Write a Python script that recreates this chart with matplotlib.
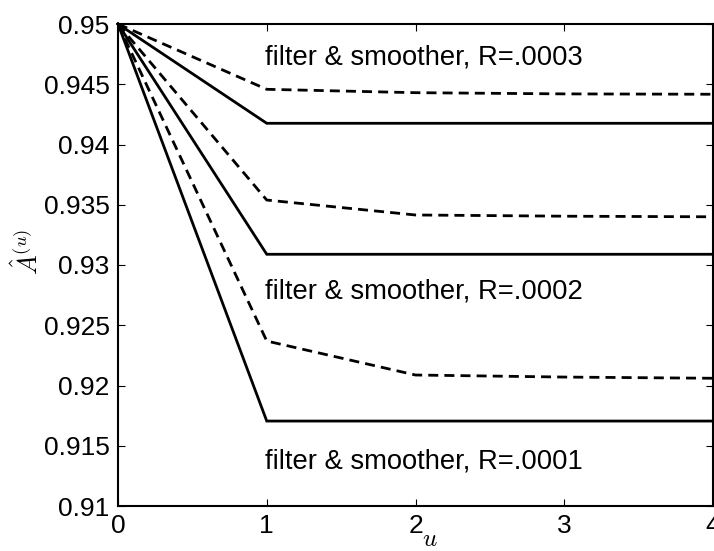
import matplotlib
matplotlib.use("Agg")
import matplotlib.pyplot as plt

plt.rcParams['font.family'] = ['Liberation Sans', 'DejaVu Sans']
plt.rcParams['mathtext.fontset'] = 'cm'

u = [0, 1, 2, 3, 4]
# solid lines
solid_r3 = [0.95, 0.94176, 0.94176, 0.94176, 0.94176]
solid_r2 = [0.95, 0.93089, 0.93089, 0.93089, 0.93089]
solid_r1 = [0.95, 0.91705, 0.91705, 0.91705, 0.91705]
# dashed lines
dash_r3 = [0.95, 0.94458, 0.94430, 0.94420, 0.94417]
dash_r2 = [0.95, 0.93539, 0.93415, 0.93405, 0.93400]
dash_r1 = [0.95, 0.92369, 0.92087, 0.92070, 0.92060]

labels = ["filter & smoother, R=.0003", "filter & smoother, R=.0002", "filter & smoother, R=.0001"]
label_x = [0.99, 0.99, 0.99]
label_y = [0.94726, 0.92776, 0.91373]

xticks = [0, 1, 2, 3, 4]
yticks = [0.91, 0.915, 0.92, 0.925, 0.93, 0.935, 0.94, 0.945, 0.95]
ytick_labels = ["0.91", "0.915", "0.92", "0.925", "0.93", "0.935", "0.94", "0.945", "0.95"]

fig = plt.figure(figsize=(7.14, 5.51), dpi=100)
ax = fig.add_axes([118/714, 1-506/551, 595/714, 482/551])

lw = 2.0
for s in [solid_r3, solid_r2, solid_r1]:
    ax.plot(u, s, color='black', lw=lw, solid_joinstyle='miter', clip_on=False)
for d in [dash_r3, dash_r2, dash_r1]:
    ax.plot(u, d, color='black', lw=lw, linestyle=(0, (3.6, 2.2)), clip_on=False)

for t, x, y in zip(labels, label_x, label_y):
    ax.text(x, y, t, fontsize=19.7, va='center', ha='left')

ax.set_xlim(0, 4)
ax.set_ylim(0.91, 0.95)
ax.set_xticks(xticks)
ax.set_xticklabels([str(v) for v in xticks])
ax.set_yticks(yticks)
ax.set_yticklabels(ytick_labels)
ax.tick_params(direction='in', top=True, right=True, length=5, width=0.8,
               labelsize=19, pad=6)
for sp in ax.spines.values():
    sp.set_linewidth(1.5)

ax.set_xlabel('$u$', fontsize=18)
ax.xaxis.set_label_coords((430-118)/595, (506-527)/482)
ax.set_ylabel(r'$\hat{A}^{(u)}$', fontsize=19)
ax.yaxis.set_label_coords((43-118)/595, 0.527)

fig.savefig('out.png', dpi=100)
